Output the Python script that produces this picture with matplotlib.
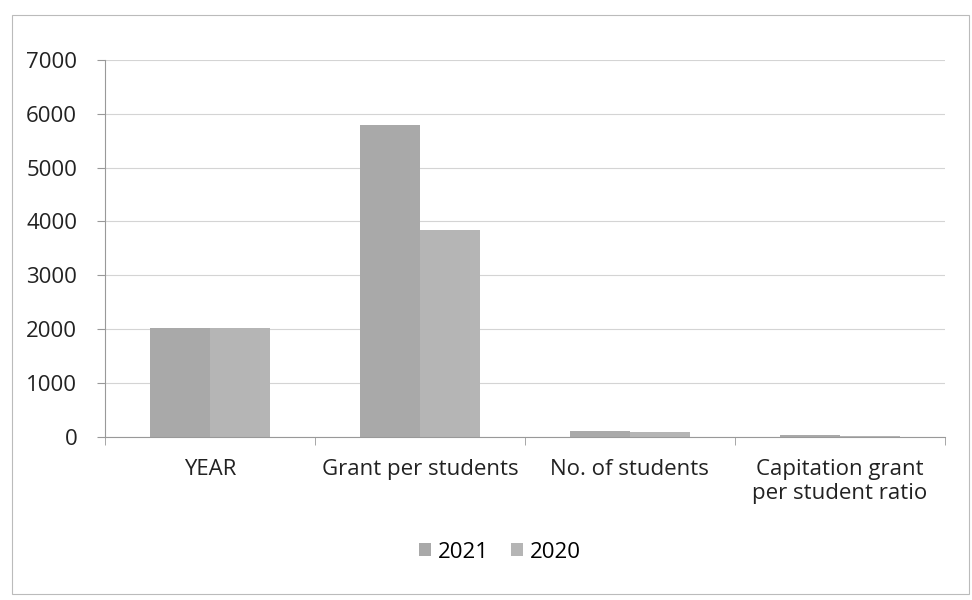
import numpy as np
import matplotlib.pyplot as plt
from matplotlib.patches import Rectangle

categories = ["YEAR", "Grant per students", "No. of students",
              "Capitation grant\nper student ratio"]
series_names = ["2021", "2020"]
values_2021 = [2021, 5800, 100, 30]
values_2020 = [2020, 3850, 90, 20]
yticks = [0, 1000, 2000, 3000, 4000, 5000, 6000, 7000]

plt.rcParams['font.family'] = ['Open Sans', 'DejaVu Sans']

fig = plt.figure(figsize=(9.72, 6), dpi=100)
ax = fig.add_axes([0.108, 0.272, 0.864, 0.628])

x = np.arange(len(categories))
w = 0.286
colors = ["#a9a9a9", "#b5b5b5"]
ax.bar(x - w / 2, values_2021, w, color=colors[0], label=series_names[0])
ax.bar(x + w / 2, values_2020, w, color=colors[1], label=series_names[1])

ax.set_xlim(-0.5, len(categories) - 0.5)
ax.set_ylim(0, 7000)
ax.set_yticks(yticks)
ax.set_yticklabels([str(t) for t in yticks], fontsize=16, color="#222222")
ax.yaxis.grid(True, color="#d4d4d4", linewidth=0.8)
ax.set_axisbelow(True)

ax.set_xticks(x)
ax.set_xticklabels(categories, fontsize=16, color="#222222")
ax.tick_params(axis='x', length=0, pad=16)
ax.set_xticks(np.arange(len(categories) + 1) - 0.5, minor=True)
ax.tick_params(axis='x', which='minor', length=6, color="#999999")
ax.tick_params(axis='y', length=6, color="#999999", pad=14)

for s in ["top", "right"]:
    ax.spines[s].set_visible(False)
ax.spines["left"].set_color("#999999")
ax.spines["bottom"].set_color("#999999")

ax.legend(loc="upper center", bbox_to_anchor=(0.47, -0.225), ncol=2,
          frameon=False, fontsize=16, handlelength=0.55, handleheight=0.55,
          columnspacing=1.0, handletextpad=0.3)

fig.patches.append(Rectangle((0.012, 0.01), 0.985, 0.965, transform=fig.transFigure,
                             fill=False, edgecolor="#bbbbbb", linewidth=0.8))

fig.savefig("out.png", dpi=100)
